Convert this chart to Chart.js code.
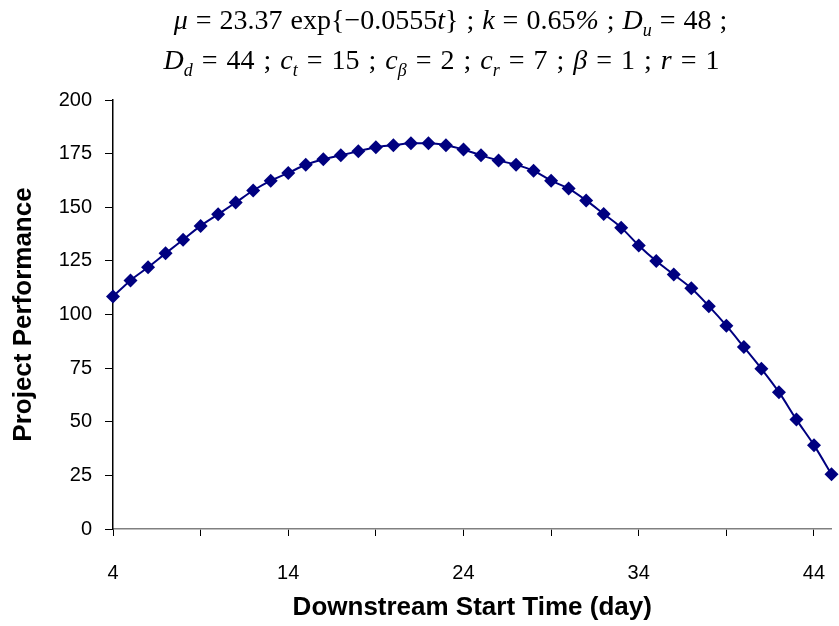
<!DOCTYPE html>
<html>
<head>
<meta charset="utf-8">
<script src="https://cdn.jsdelivr.net/npm/chart.js@4.4.1/dist/chart.umd.min.js"></script>
<style>
  html, body { margin: 0; padding: 0; background: #fff; }
  #wrap { position: relative; width: 839px; height: 626px; overflow: hidden; }
  #c { position: absolute; left: 0; top: 0; }
  #title { position: absolute; left: 0; top: 0px; width: 839px; text-align: center;
    font-family: "Liberation Serif", "Times New Roman", serif; font-size: 28px; line-height: 40px; color: #000; word-spacing: 1px; }
  #title .l1 { padding-left: 62px; }
  #title .l2 { padding-left: 44px; word-spacing: 2px; }
  #title i { font-style: italic; }
  #title sub { font-size: 18px; vertical-align: -7px; line-height: 0; }
</style>
</head>
<body>
<div id="wrap">
  <canvas id="c" width="839" height="626"></canvas>
  <div id="title">
    <div class="l1"><i>μ</i> = 23.37 exp{−0.0555<i>t</i>} ; <i>k</i> = 0.65<i>%</i> ; <i>D<sub>u</sub></i> = 48 ;</div>
    <div class="l2"><i>D<sub>d</sub></i> = 44 ; <i>c<sub>t</sub></i> = 15 ; <i>c<sub>β</sub></i> = 2 ; <i>c<sub>r</sub></i> = 7 ; <i>β</i> = 1 ; <i>r</i> = 1</div>
  </div>
</div>
<script>
// Data
const days = [4,5,6,7,8,9,10,11,12,13,14,15,16,17,18,19,20,21,22,23,24,25,26,27,28,29,30,31,32,33,34,35,36,37,38,39,40,41,42,43,44,45];
const performance = [108.4,115.9,122.0,128.5,134.9,141.3,146.7,152.2,157.8,162.4,166.0,169.8,172.4,174.2,176.1,178.0,178.9,179.8,179.8,178.9,176.9,174.2,171.8,169.8,167.0,162.4,158.7,153.2,146.9,140.5,132.2,124.9,118.6,112.2,103.9,94.8,84.8,74.7,63.8,51.0,39.1,25.5];
const xTickValues = [4,9,14,19,24,29,34,39,44];
const xTickLabels = [4,14,24,34,44];
const yTickValues = [0,25,50,75,100,125,150,175,200];

const points = days.map((d, i) => ({ x: d, y: performance[i] }));

new Chart(document.getElementById('c'), {
  type: 'line',
  data: {
    datasets: [{
      data: points,
      borderColor: '#000080',
      backgroundColor: '#000080',
      borderWidth: 2,
      pointStyle: 'rectRot',
      pointRadius: 7,
      pointHoverRadius: 7,
      pointBorderWidth: 0,
      cubicInterpolationMode: 'monotone',
      clip: false
    }]
  },
  options: {
    responsive: false,
    animation: false,
    events: [],
    layout: { padding: { left: 0, top: 100, right: 7.5, bottom: 0 } },
    plugins: { legend: { display: false }, tooltip: { enabled: false }, title: { display: false } },
    scales: {
      x: {
        type: 'linear',
        min: 4, max: 45,
        afterFit: (s) => { s.height = 97; s.paddingLeft = 0; s.paddingRight = 0; },
        afterBuildTicks: (s) => { s.ticks = xTickValues.map(v => ({ value: v })); },
        border: { display: true, color: '#808080', width: 1.5 },
        grid: { display: true, drawOnChartArea: false, drawTicks: true, tickLength: 7, color: '#000', lineWidth: 1 },
        ticks: {
          autoSkip: false, maxRotation: 0, padding: 25, color: '#000',
          font: { family: 'Liberation Sans, Arial, sans-serif', size: 20 },
          callback: (v) => xTickLabels.includes(v) ? String(v) : ''
        },
        title: {
          display: true, text: 'Downstream Start Time (day)', color: '#000',
          font: { family: 'Liberation Sans, Arial, sans-serif', size: 26, weight: 'bold' },
          padding: { top: 0, bottom: 3 }
        }
      },
      y: {
        min: 0, max: 200,
        afterFit: (s) => { s.width = 113; s.paddingTop = 0; s.paddingBottom = 0; },
        afterBuildTicks: (s) => { s.ticks = yTickValues.map(v => ({ value: v })); },
        border: { display: true, color: '#000', width: 1.5 },
        grid: { display: true, drawOnChartArea: false, drawTicks: true, tickLength: 8, color: '#000', lineWidth: 1 },
        ticks: {
          padding: 13, color: '#000',
          font: { family: 'Liberation Sans, Arial, sans-serif', size: 20 }
        },
        title: {
          display: true, text: 'Project Performance', color: '#000',
          font: { family: 'Liberation Sans, Arial, sans-serif', size: 26, weight: 'bold' },
          padding: { top: 8, bottom: 0 }
        }
      }
    }
  }
});
</script>
</body>
</html>
